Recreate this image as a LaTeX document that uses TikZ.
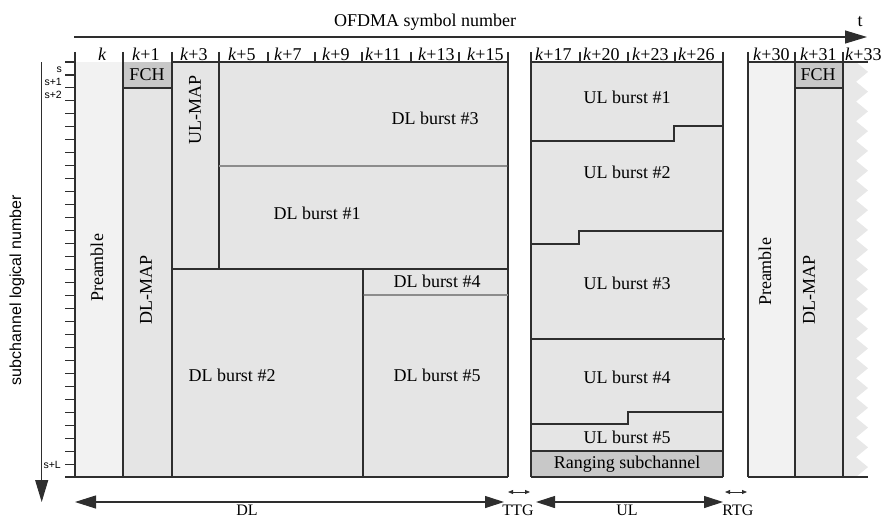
\documentclass[tikz,border=0pt]{standalone}
\usepackage{fontspec}
\setmainfont{Liberation Serif}
\newfontfamily\axisfont{Liberation Sans}
\usetikzlibrary{arrows.meta}
\definecolor{prefill}{HTML}{F2F2F2}
\definecolor{burstfill}{HTML}{E5E5E5}
\definecolor{fchfill}{HTML}{C8C8C8}
\definecolor{linec}{HTML}{2E2E2E}
\definecolor{zigfill}{HTML}{E8E8E8}
\definecolor{softline}{HTML}{8C8C8C}
\begin{document}
\begin{tikzpicture}[x=1pt,y=-1pt,
  lab/.style={font=\fontsize{18}{20}\selectfont, inner sep=0pt},
  botlab/.style={font=\fontsize{16}{18}\selectfont, inner sep=0pt, anchor=base},
  tklab/.style={font=\fontsize{18}{20}\selectfont, inner sep=0pt, anchor=base west},
  slab/.style={font=\axisfont\fontsize{10.5}{11}\selectfont, inner sep=0pt, anchor=east},
  edge/.style={draw=linec, line width=1.1pt},
  softedge/.style={draw=softline, line width=1.1pt},
  bigarrow/.style={draw=linec, line width=1.1pt},
  smallarrow/.style={draw=linec, line width=0.8pt, {Triangle[length=5pt,width=4pt]}-{Triangle[length=5pt,width=4pt]}}]
\useasboundingbox (0,0) rectangle (882,519);

% ---------- fills ----------
\fill[prefill] (75,62) rectangle (123,477);
\fill[fchfill] (123,62) rectangle (172,88);
\fill[burstfill] (123,88) rectangle (172,477);
\fill[burstfill] (172,62) rectangle (508,477);
\fill[burstfill] (531,62) rectangle (723,451);
\fill[fchfill] (531,451) rectangle (723,477);
\fill[prefill] (748,62) rectangle (795,477);
\fill[fchfill] (795,62) rectangle (843,88);
\fill[burstfill] (795,88) rectangle (843,477);
\fill[zigfill] (843,62) -- (856,62)
  \foreach \j in {0,...,20} { -- (868,{62+19.76*\j+9.88}) -- (856,{62+19.76*(\j+1)}) }
  -- (843,477) -- cycle;

% ---------- top axis ----------
\coordinate (tA) at (74,37);
\coordinate (tB) at (867,37);
\draw[bigarrow, -{Triangle[length=22pt,width=13pt]}] (tA) -- (tB);
\node[lab, anchor=base] (ofdma) at (425,27) {OFDMA symbol number};
\node[lab, anchor=base] (tlab) at (860,27) {t};

% ---------- left axis ----------
\coordinate (lA) at (41.7,62);
\coordinate (lB) at (41.7,502);
\draw[bigarrow, -{Triangle[length=22pt,width=13pt]}] (lA) -- (lB);
\node[font=\axisfont\fontsize{16}{18}\selectfont, rotate=90, inner sep=0pt] (subch) at (17,290) {subchannel logical number};
\foreach \i in {0,...,32} \draw[edge] (65,{62+\i*12.97}) -- (75,{62+\i*12.97});
\node[slab] (s0) at (62,70) {s};
\node[slab] (s1) at (62,82) {s+1};
\node[slab] (s2) at (62,95) {s+2};
\node[slab] (sL) at (61,465) {s+L};

% ---------- DL frame lines ----------
\foreach \x in {268,315,411,459} \draw[edge] (\x,52) -- (\x,62);
\draw[edge] (362,52) -- (362,62);
\draw[edge] (75,52) -- (75,477);
\draw[edge] (123,52) -- (123,477);
\draw[edge] (172,52) -- (172,477);
\draw[edge] (219,52) -- (219,269);
\draw[edge] (508,52) -- (508,477);
\draw[edge] (172,62) -- (508,62);
\draw[edge] (123,88) -- (172,88);
\draw[edge] (172,269) -- (508,269);
\draw[edge] (363,269) -- (363,477);
\draw[edge] (75,477) -- (508,477);
\draw[softedge] (219,166) -- (508,166);
\fill[linec] (508,166) circle (1.2);
\draw[softedge] (363,295) -- (508,295);
\fill[linec] (363,295) circle (1.2);

% ---------- UL frame lines ----------
\foreach \x in {580,628,675} \draw[edge] (\x,52) -- (\x,62);
\draw[edge] (531,52) -- (531,477);
\draw[edge] (723,52) -- (723,477);
\draw[edge] (531,62) -- (723,62);
\draw[edge] (531,141) -- (674,141) -- (674,126) -- (723,126);
\draw[edge] (531,244) -- (579,244) -- (579,231) -- (723,231);
\draw[edge] (531,339) -- (725,339);
\draw[edge] (531,424) -- (628,424) -- (628,412) -- (723,412);
\draw[edge] (531,451) -- (723,451);
\draw[edge] (531,477) -- (723,477);

% ---------- next frame lines ----------
\draw[edge] (748,52) -- (748,477);
\draw[edge] (795,52) -- (795,477);
\draw[edge] (843,52) -- (843,477);
\draw[edge] (748,62) -- (868,62);
\draw[edge] (795,88) -- (843,88);
\draw[edge] (748,477) -- (868,477);

% ---------- tick labels ----------
\node[tklab] (k0) at (98,60) {\textit{k}};
\node[tklab] (k1) at (132,60) {\textit{k}+1};
\node[tklab] (k3) at (180,60) {\textit{k}+3};
\node[tklab] (k5) at (228,60) {\textit{k}+5};
\node[tklab] (k7) at (274,60) {\textit{k}+7};
\node[tklab] (k9) at (322,60) {\textit{k}+9};
\node[tklab] (k11) at (365,60) {\textit{k}+11};
\node[tklab] (k13) at (418,60) {\textit{k}+13};
\node[tklab] (k15) at (467,60) {\textit{k}+15};
\node[tklab] (k17) at (535,60) {\textit{k}+17};
\node[tklab] (k20) at (583,60) {\textit{k}+20};
\node[tklab] (k23) at (632,60) {\textit{k}+23};
\node[tklab] (k26) at (678,60) {\textit{k}+26};
\node[tklab] (k30) at (753,60) {\textit{k}+30};
\node[tklab] (k31) at (800,60) {\textit{k}+31};
\node[tklab] (k33) at (845,60) {\textit{k}+33};

% ---------- region labels ----------
\node[lab, rotate=90] (pre1) at (97,268) {Preamble};
\node[lab] (fch1) at (147,75) {FCH};
\node[lab, rotate=90] (dlmap1) at (146,290) {DL-MAP};
\node[lab, rotate=90] (ulmap) at (195,110) {UL-MAP};
\node[lab] (dl3) at (435,118) {DL burst \#3};
\node[lab] (dl1) at (317,213) {DL burst \#1};
\node[lab] (dl4) at (437,281) {DL burst \#4};
\node[lab] (dl2) at (232,375) {DL burst \#2};
\node[lab] (dl5) at (437,375) {DL burst \#5};
\node[lab] (ul1) at (627,97) {UL burst \#1};
\node[lab] (ul2) at (627,172) {UL burst \#2};
\node[lab] (ul3) at (627,283) {UL burst \#3};
\node[lab] (ul4) at (627,377) {UL burst \#4};
\node[lab] (ul5) at (627,437) {UL burst \#5};
\node[lab] (rng) at (627,464) {Ranging subchannel};
\node[lab, rotate=90] (pre2) at (765,272) {Preamble};
\node[lab] (fch2) at (818,75) {FCH};
\node[lab, rotate=90] (dlmap2) at (809,290) {DL-MAP};

% ---------- bottom arrows ----------
\coordinate (dlL) at (75,502);
\coordinate (dlR) at (504,502);
\coordinate (ulL) at (536,502);
\coordinate (ulR) at (723,502);
\draw[bigarrow, {Triangle[length=21pt,width=13pt]}-{Triangle[length=19pt,width=12pt]}] (dlL) -- (dlR);
\draw[bigarrow, {Triangle[length=19pt,width=12pt]}-{Triangle[length=19pt,width=12pt]}] (ulL) -- (ulR);
\coordinate (ttgL) at (508,492);
\coordinate (ttgR) at (530,492);
\coordinate (rtgL) at (725,492);
\coordinate (rtgR) at (747,492);
\draw[smallarrow] (ttgL) -- (ttgR);
\draw[smallarrow] (rtgL) -- (rtgR);
\node[botlab] (dlt) at (247,515) {DL};
\node[botlab] (ttg) at (518,515) {TTG};
\node[botlab] (ult) at (627,515) {UL};
\node[botlab] (rtg) at (738,515) {RTG};
\end{tikzpicture}
\end{document}
